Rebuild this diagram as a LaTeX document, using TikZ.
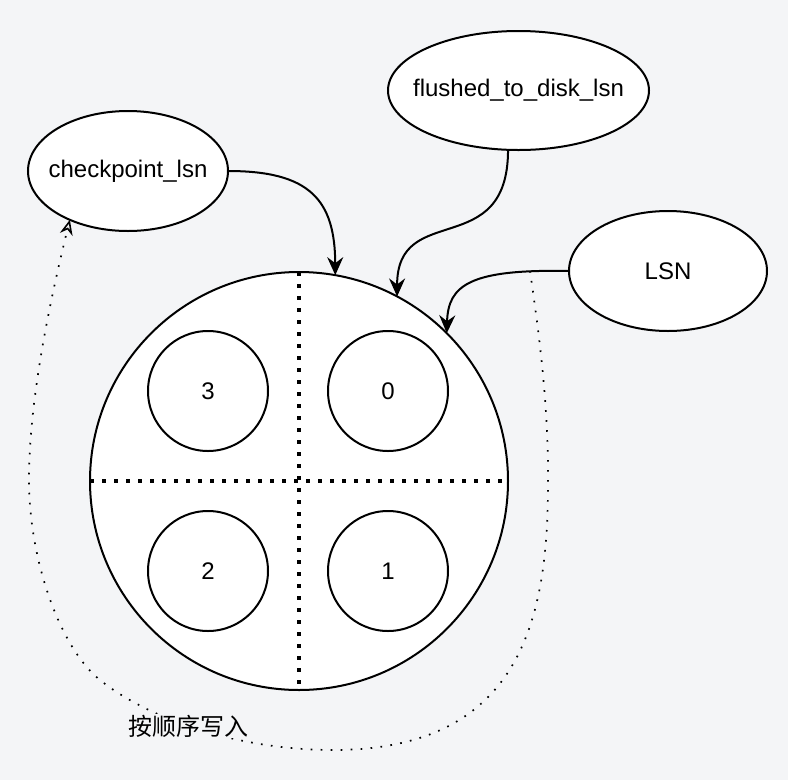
\documentclass[tikz,border=0pt]{standalone}
\usepackage{fontspec}
\setmainfont{Liberation Sans}
\newfontfamily\cjk{Noto Sans CJK SC}
\usetikzlibrary{shapes.geometric,arrows.meta}
\definecolor{pagebg}{RGB}{244,245,247}

\begin{document}
\begin{tikzpicture}[x=1pt,y=-1pt,
  lsnbox/.style={ellipse,draw,fill=white,line width=2pt,inner sep=0pt,outer sep=0pt},
  slot/.style={circle,draw,fill=white,line width=2pt,minimum size=120pt,inner sep=0pt,outer sep=0pt},
  ptr/.style={line width=2pt,-{Stealth[length=18pt,width=16pt,inset=6pt]}},
  divider/.style={line width=3.5pt,dash pattern=on 3.5pt off 8.5pt},
  order/.style={line width=1.7pt,dash pattern=on 1.7pt off 8.3pt,
    -{Stealth[open,length=15pt,width=13pt,inset=5pt,line width=1.6pt]}},
  font=\fontsize{24}{28}\selectfont]
\fill[pagebg] (0,0) rectangle (788,780);
%\draw (0,0) to[grid with coordinates] (788,780);
\node[lsnbox,minimum width=200pt,minimum height=120pt,label=center:checkpoint\_lsn] (chk) at (128,171) {};
\node[lsnbox,minimum width=261pt,minimum height=119pt,label=center:flushed\_to\_disk\_lsn] (fl) at (518.5,90.5) {};
\node[lsnbox,minimum width=198pt,minimum height=120pt,label=center:LSN] (lsn) at (668,271) {};
\node[circle,draw,fill=white,line width=2pt,minimum size=418pt,inner sep=0pt,outer sep=0pt] (ring) at (299,481) {};
\draw[divider] (ring.north) -- (ring.south);
\draw[divider] (ring.west) -- (ring.east);
\node[slot] (s3) at (208,391) {3};
\node[slot] (s0) at (388,391) {0};
\node[slot] (s2) at (208,571) {2};
\node[slot] (s1) at (388,571) {1};
\draw[ptr] (chk.east) .. controls (310,171) and (335,200) .. (ring.80);
\draw[ptr] (fl.260) .. controls (508,262) and (397,200) .. (ring.62);
\draw[ptr] (lsn.west) .. controls (470,269) and (448,285) .. (ring.45);
\coordinate (tap) at (530,271);
\draw[order] (tap) .. controls (540,340) and (549,410) .. (548,490)
  .. controls (547,620) and (520,750) .. (333,750)
  .. controls (240,750) and (150,720) .. node[pos=.55,fill=pagebg,inner sep=1pt] {\cjk 按顺序写入} (100,680)
  .. controls (60,648) and (29,560) .. (29,480)
  .. controls (29,400) and (50,300) .. (chk.220);
\end{tikzpicture}
\end{document}
